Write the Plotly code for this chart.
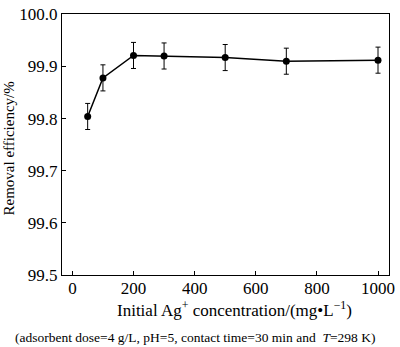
import plotly.graph_objects as go

conc = [50, 100, 200, 300, 500, 700, 1000]
removal = [99.804, 99.878, 99.921, 99.920, 99.917, 99.910, 99.912]
err = [0.025, 0.025, 0.025, 0.025, 0.025, 0.025, 0.025]
xticks = [0, 200, 400, 600, 800, 1000]
yticks = [99.5, 99.6, 99.7, 99.8, 99.9, 100.0]

FONT = "Liberation Serif"

fig = go.Figure()
fig.add_trace(go.Scatter(
    x=conc, y=removal, mode="lines+markers",
    line=dict(color="black", width=1.5),
    marker=dict(color="black", size=7),
    error_y=dict(type="data", array=err, color="black", thickness=1, width=2.5),
    showlegend=False,
))

fig.update_layout(
    width=400, height=347,
    margin=dict(l=62, r=5, t=6, b=72),
    paper_bgcolor="white", plot_bgcolor="white",
    font=dict(family=FONT, size=15, color="black"),
    xaxis=dict(range=[-34, 1036], tickvals=xticks, ticktext=[str(v) for v in xticks],
               ticks="inside", ticklen=4, tickcolor="black", showline=True, linecolor="black",
               linewidth=1.3, mirror=True, showgrid=False, zeroline=False,
               ticklabeloverflow="allow", ticklabelstandoff=-3,
               tickfont=dict(family=FONT, size=17)),
    yaxis=dict(range=[99.5, 100.0005], tickvals=yticks, ticktext=["%.1f" % v for v in yticks],
               ticks="inside", ticklen=4, tickcolor="black", showline=True, linecolor="black",
               linewidth=1.3, mirror=True, showgrid=False, zeroline=False,
               ticklabeloverflow="allow",
               tickfont=dict(family=FONT, size=17)),
    annotations=[
        dict(text="Initial Ag<sup>+</sup> concentration/(mg•L<sup>−1</sup>)", xref="paper", yref="paper",
             x=0.527, y=0, yshift=-34, xanchor="center", yanchor="middle", showarrow=False,
             font=dict(family=FONT, size=17)),
        dict(text="Removal efficiency/%", xref="paper", yref="paper",
             x=0, xshift=-54, y=0.5, yshift=-4, textangle=-90, xanchor="center", yanchor="middle",
             showarrow=False, font=dict(family=FONT, size=15)),
        dict(text="(adsorbent dose=4 g/L, pH=5, contact time=30 min and  <i>T</i>=298 K)",
             xref="paper", yref="paper", x=0.408, y=0, yshift=-62, xanchor="center",
             yanchor="middle", showarrow=False, font=dict(family=FONT, size=13.5)),
    ],
)
fig.write_html("out.html")
